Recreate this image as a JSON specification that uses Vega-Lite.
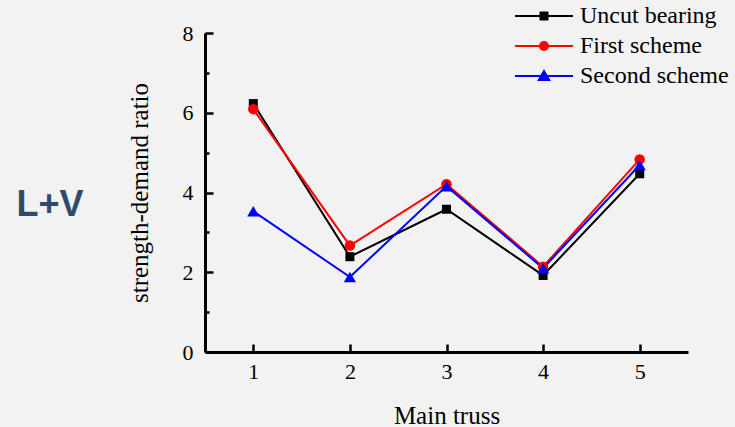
{
  "$schema": "https://vega.github.io/schema/vega-lite/v6.json",
  "width": 483,
  "height": 319,
  "autosize": {"type": "none"},
  "padding": {"left": 205, "top": 33, "right": 47, "bottom": 75},
  "background": "#f2f2f2",
  "title": {
    "text": "L+V",
    "orient": "left",
    "angle": 0,
    "anchor": "middle",
    "align": "center",
    "baseline": "middle",
    "font": "Liberation Sans",
    "fontWeight": "bold",
    "fontSize": 36,
    "color": "#2e4a6c",
    "offset": 10,
    "dy": 12
  },
  "config": {
    "view": {"stroke": null},
    "font": "Liberation Serif"
  },
  "data": {
    "values": [
      {"truss": 1, "series": "Uncut bearing", "value": 6.23},
      {"truss": 2, "series": "Uncut bearing", "value": 2.39},
      {"truss": 3, "series": "Uncut bearing", "value": 3.58},
      {"truss": 4, "series": "Uncut bearing", "value": 1.92},
      {"truss": 5, "series": "Uncut bearing", "value": 4.47},
      {"truss": 1, "series": "First scheme", "value": 6.09},
      {"truss": 2, "series": "First scheme", "value": 2.67},
      {"truss": 3, "series": "First scheme", "value": 4.21},
      {"truss": 4, "series": "First scheme", "value": 2.14},
      {"truss": 5, "series": "First scheme", "value": 4.83},
      {"truss": 1, "series": "Second scheme", "value": 3.53},
      {"truss": 2, "series": "Second scheme", "value": 1.88},
      {"truss": 3, "series": "Second scheme", "value": 4.16},
      {"truss": 4, "series": "Second scheme", "value": 2.1},
      {"truss": 5, "series": "Second scheme", "value": 4.69}
    ]
  },
  "encoding": {
    "x": {
      "field": "truss",
      "type": "quantitative",
      "scale": {"domain": [0.5, 5.5], "nice": false, "zero": false},
      "axis": {
        "title": "Main truss",
        "grid": false,
        "values": [1, 2, 3, 4, 5],
        "domainColor": "#000000",
        "domainWidth": 3,
        "tickColor": "#000000",
        "tickWidth": 2.5,
        "tickSize": -8,
        "labelFont": "Liberation Serif",
        "labelFontSize": 22,
        "labelColor": "#000000",
        "labelPadding": 17,
        "labelFlush": false,
        "titleFont": "Liberation Serif",
        "titleFontSize": 25,
        "titleFontWeight": "normal",
        "titleColor": "#000000",
        "titlePadding": 21
      }
    },
    "y": {
      "field": "value",
      "type": "quantitative",
      "scale": {"domain": [0, 8], "nice": false},
      "axis": {
        "title": "strength-demand ratio",
        "grid": false,
        "values": [0, 1, 2, 3, 4, 5, 6, 7, 8],
        "labelExpr": "datum.value % 2 === 0 ? datum.label : ''",
        "domainColor": "#000000",
        "domainWidth": 3,
        "tickColor": "#000000",
        "tickWidth": 2.5,
        "tickSize": {"condition": {"test": "datum.value % 2 === 1", "value": -4}, "value": -8},
        "labelFont": "Liberation Serif",
        "labelFontSize": 22,
        "labelColor": "#000000",
        "labelPadding": 20,
        "labelFlush": false,
        "titleFont": "Liberation Serif",
        "titleFontSize": 25,
        "titleFontWeight": "normal",
        "titleColor": "#000000",
        "titlePadding": 30
      }
    }
  },
  "layer": [
    {
      "mark": {"type": "line", "strokeWidth": 2},
      "encoding": {
        "color": {
          "field": "series",
          "type": "nominal",
          "sort": ["Uncut bearing", "First scheme", "Second scheme"],
          "scale": {
            "domain": ["Uncut bearing", "First scheme", "Second scheme"],
            "range": ["#000000", "#ff0000", "#0000ff"]
          },
          "legend": {
            "title": null,
            "orient": "none",
            "legendX": 323.5,
            "legendY": -32.5,
            "padding": 0,
            "symbolSize": 841,
            "symbolStrokeWidth": 2,
            "rowPadding": 2,
            "labelOffset": 20.5,
            "labelFont": "Liberation Serif",
            "labelFontSize": 24,
            "labelColor": "#000000",
            "labelLimit": 300,
            "encode": {
              "symbols": {
                "update": {
                  "shape": {"signal": "datum.value === 'Uncut bearing' ? 'M-2,0H2M-0.24,-0.24H0.24V0.24H-0.24Z' : datum.value === 'First scheme' ? 'M-2,0H2M0.28,0A0.28,0.28,0,1,1,-0.28,0A0.28,0.28,0,1,1,0.28,0Z' : 'M-2,0H2M0,-0.34L0.36,0.27L-0.36,0.27Z'"},
                  "fill": {"scale": "color", "field": "value"},
                  "stroke": {"scale": "color", "field": "value"},
                  "strokeWidth": {"value": 2},
                  "opacity": {"value": 1}
                }
              }
            }
          }
        }
      }
    },
    {
      "transform": [{"filter": "datum.series === 'Uncut bearing'"}],
      "mark": {"type": "point", "filled": true, "opacity": 1, "shape": "square", "size": 81, "color": "#000000"}
    },
    {
      "transform": [{"filter": "datum.series === 'First scheme'"}],
      "mark": {"type": "point", "filled": true, "opacity": 1, "shape": "circle", "size": 110, "color": "#ff0000"}
    },
    {
      "transform": [{"filter": "datum.series === 'Second scheme'"}],
      "mark": {"type": "point", "filled": true, "opacity": 1, "shape": "triangle-up", "size": 150, "color": "#0000ff"}
    }
  ]
}
